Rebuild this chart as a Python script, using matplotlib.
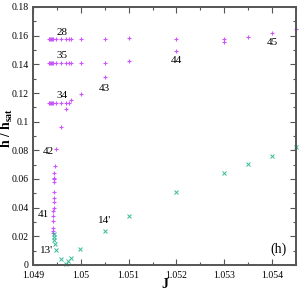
import matplotlib
matplotlib.use("Agg")
import matplotlib.pyplot as plt
from matplotlib.ticker import MultipleLocator, FixedLocator

plt.rcParams['font.family'] = ['Liberation Serif', 'DejaVu Serif']
plt.rcParams['mathtext.fontset'] = 'custom'
plt.rcParams['mathtext.rm'] = 'Liberation Serif'
plt.rcParams['mathtext.bf'] = 'Liberation Serif:bold'
plt.rcParams['mathtext.it'] = 'Liberation Serif:italic'

# upper branch (+ markers)
J_plus = [1.04934, 1.04936, 1.04938, 1.0494, 1.04942, 1.04948, 1.04959, 1.04969, 1.04975, 1.0498,
          1.05, 1.0505, 1.051, 1.052, 1.053, 1.053, 1.0535, 1.054, 1.0545,
          1.04934, 1.04936, 1.04938, 1.0494, 1.04942, 1.04948, 1.04959, 1.04969, 1.04975, 1.0498,
          1.05, 1.0505, 1.051,
          1.04934, 1.04936, 1.04938, 1.0494, 1.04942, 1.04948, 1.04959, 1.04969, 1.04975, 1.0498,
          1.05, 1.04969, 1.04959, 1.0505, 1.052,
          1.04948, 1.04945, 1.04944, 1.04943, 1.04943, 1.04943, 1.04943, 1.04943, 1.04943,
          1.04943, 1.04942, 1.04942, 1.04942, 1.04941, 1.04941, 1.04941]
h_plus = [0.158, 0.158, 0.158, 0.158, 0.158, 0.158, 0.158, 0.158, 0.158, 0.158,
          0.158, 0.158, 0.1585, 0.158, 0.1578, 0.1558, 0.159, 0.162, 0.165,
          0.141, 0.141, 0.141, 0.141, 0.141, 0.141, 0.141, 0.141, 0.141, 0.141,
          0.141, 0.141, 0.142,
          0.113, 0.113, 0.113, 0.113, 0.113, 0.113, 0.113, 0.113, 0.113, 0.115,
          0.119, 0.109, 0.096, 0.131, 0.149,
          0.081, 0.069, 0.064, 0.061, 0.060, 0.058, 0.051, 0.047, 0.044,
          0.040, 0.038, 0.034, 0.031, 0.026, 0.024, 0.022]

# lower branch (x markers)
J_x = [1.04943, 1.04943, 1.04944, 1.04945, 1.04949, 1.04958, 1.04968, 1.04973, 1.04979,
       1.04998, 1.0505, 1.051, 1.052, 1.053, 1.0535, 1.054, 1.0545]
h_x = [0.0216, 0.0195, 0.0174, 0.015, 0.0105, 0.004, 0.0007, 0.003, 0.005,
       0.011, 0.024, 0.034, 0.051, 0.064, 0.0705, 0.076, 0.082]

labels = ["28", "35", "34", "43", "44", "45", "42", "41", "13'", "14'"]
label_J = [1.0496, 1.0496, 1.0496, 1.0505, 1.052, 1.054, 1.04933, 1.04922, 1.04928, 1.0505]
label_h = [0.1624, 0.146, 0.118, 0.123, 0.143, 0.155, 0.079, 0.035, 0.010, 0.031]

fig = plt.figure(figsize=(3.07, 2.91), dpi=100)
ax = fig.add_axes([33/307, 26/291, 263/307, 258/291])

ax.plot(J_plus, h_plus, linestyle='none', marker='+', color='#cc55ff', ms=3.5, mew=0.8, clip_on=False)
ax.plot(J_x, h_x, linestyle='none', marker='x', color='#33bb99', ms=3, mew=0.7, clip_on=False)

for t, x, y in zip(labels, label_J, label_h):
    ax.text(x, y, t, fontsize=8, ha='center', va='center')
ax.text(1.05413, 0.011, "(h)", fontsize=10, ha='center', va='center')

ax.set_xlim(1.049, 1.0545)
ax.set_ylim(0, 0.18)
ax.xaxis.set_major_locator(FixedLocator([1.049, 1.05, 1.051, 1.052, 1.053, 1.054]))
ax.set_xticklabels(["1.049", "1.05", "1.051", "1.052", "1.053", "1.054"])
ax.xaxis.set_minor_locator(MultipleLocator(0.0005))
ax.set_yticks([0, 0.02, 0.04, 0.06, 0.08, 0.1, 0.12, 0.14, 0.16, 0.18])
ax.set_yticklabels(["0", "0.02", "0.04", "0.06", "0.08", "0.1", "0.12", "0.14", "0.16", "0.18"])
ax.yaxis.set_minor_locator(MultipleLocator(0.01))
ax.tick_params(which='both', direction='in', top=True, right=True, labelsize=7,
               color='#555555')
ax.tick_params(axis='x', pad=4)
ax.tick_params(axis='y', pad=3)
ax.tick_params(which='major', length=4, width=0.8)
ax.tick_params(which='minor', length=2, width=0.8)
for s in ax.spines.values():
    s.set_linewidth(1.4)
    s.set_color('#555555')

ax.set_xlabel("J", fontsize=10, fontweight='bold')
ax.xaxis.set_label_coords(0.5, -0.05)
ax.set_ylabel(r"$\mathbf{h\ /\ h_{sat}}$", fontsize=10)
ax.yaxis.set_label_coords(-0.068, 0.53)

fig.savefig("out.png", dpi=100)
